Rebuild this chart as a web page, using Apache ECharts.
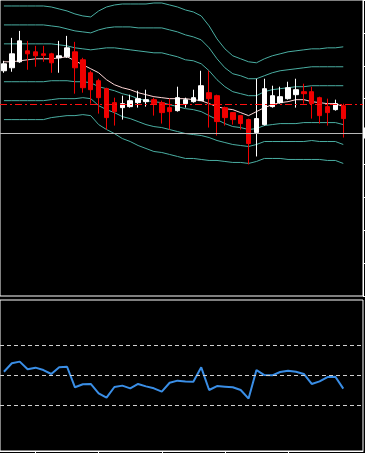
<!DOCTYPE html>
<html>
<head>
<meta charset="utf-8">
<script src="https://cdn.jsdelivr.net/npm/echarts@6/dist/echarts.min.js"></script>
<style>
html,body{margin:0;padding:0;background:#000;}
#chart{width:365px;height:453px;}
</style>
</head>
<body>
<div id="chart"></div>
<script>
// 46 bar slots (last two are empty shift space)
const categories = ['1','2','3','4','5','6','7','8','9','10','11','12','13','14','15','16','17','18','19','20','21','22','23','24','25','26','27','28','29','30','31','32','33','34','35','36','37','38','39','40','41','42','43','44','45','46'];

const opens  = [226,229,235,246,245,243,243,239,240,245,237,224,216,208,194,189,190,194,195,197,194,189,186,193,195,196,204,201,189,184,181,177,164,172,190,194,198,202,205,205,199,190,187,191];
const closes = [233,243,256,243,241,241.5,234,241,249,229,209,207,199,179,185,193,196,198,197,193,184,185,199,197,199,211,198,175,179,177,173,153,178,208,201,200,209,207,203,193,181,184,193,178];
const lows   = [224,225,234,227,230,235,224,224,239,203,204,193,183,167,171,177,189,189,190,181,173,167,185,189,194,196,169,161,171,172,167,132,140,171,189,193,197,189,193,178,173,171,186,159];
const highs  = [236,259,266,256,251,251,244,256,261,255,239,226,218,209,199,201,202,206,207,199,196,198,210,199,207,226,226,202,190,184,181,178,218,218,211,210,215,218,213,210,200,198,197,193];

const maLine = [235,235,236,237,238,238,238,239,240,236,232,228,224,217,212,209,207,204,202,200,199,198,198,198,197,196,193,190,188,187,184,181,185,189,192,194,195,197,197,195,194,193,193,190];

const bandUp3 = [291,291,291,291,291,291,290,288,286,283,281,280,286,290,292,293,293,293,293,294,294,292,290,287,285,281,271,258,248,241,238,235,234,238,241,243,245,246,247,248,248,249,249,250];
const bandUp2 = [272,272,272,272,272,272,271,270,268,266,265,264,267,269,270,270,270,269,269,269,269,267,265,262,260,257,249,238,229,223,221,218,218,221,224,226,227,228,229,230,230,230,230,230];
const bandUp1 = [253,253,253,253,253,253,253,252,251,249,248,247,248,249,249,248,247,246,245,244,244,242,240,237,236,233,226,217,210,205,203,201,201,205,207,208,209,210,210,211,211,211,211,211];
const bandDn1 = [215,215,215,215,215,215,216,216,216,215,215,214,210,208,206,203,201,198,196,195,194,192,190,188,187,185,181,177,173,170,169,167,168,171,172,173,173,173,174,174,174,174,174,172];
const bandDn2 = [196,196,196,196,196,196,197,198,198,198,199,198,191,187,184,180,178,175,172,170,169,167,165,163,162,161,159,156,154,152,151,150,152,155,155,155,155,155,155,156,155,155,155,152];
const bandDn3 = [177,177,177,177,177,177,179,180,181,181,182,181,172,167,163,158,155,151,148,145,144,142,140,138,138,137,136,136,135,134,134,133,135,138,138,138,137,137,137,137,137,136,136,133];

const rsiValues = [52.5,58.1,59.2,54.1,55.2,53.6,51.0,55.4,55.8,42.2,44.2,44.4,38.2,35.3,42.4,43.3,41.5,44.4,42.8,41.5,39.3,45.2,46.6,46.1,45.9,55.4,40.4,43.0,42.6,42.2,40.4,34.7,53.6,50.3,50.1,52.3,53.2,52.5,51.0,44.4,46.1,49.0,49.2,41.3];
const rsiLevels = [70,50,30];

const bidLevel = 163.5;
const redLevel = 192.5;

const candleData = opens.map((o,i)=>[o, closes[i], lows[i], highs[i]]);

const teal = '#4aaea2';
function band(data){
  return {type:'line', xAxisIndex:0, yAxisIndex:0, data:data, symbol:'none', silent:true, z:2,
    lineStyle:{color:teal, width:1}};
}

const chart = echarts.init(document.getElementById('chart'), null, {renderer:'canvas'});
chart.setOption({
  backgroundColor:'#000000',
  animation:false,
  grid:[
    {left:-5, right:2, top:-1, height:297, show:true, borderColor:'#ffffff', borderWidth:1, backgroundColor:'transparent'},
    {left:-5, right:2, top:300, height:151, show:true, borderColor:'#ffffff', borderWidth:1, backgroundColor:'transparent'}
  ],
  xAxis:[
    {type:'category', gridIndex:0, data:categories, boundaryGap:true,
     axisLine:{show:false}, axisTick:{show:false}, axisLabel:{show:false}, splitLine:{show:false}},
    {type:'category', gridIndex:1, data:categories, boundaryGap:true,
     axisLine:{show:true, lineStyle:{color:'#ffffff'}},
     axisTick:{show:true, alignWithLabel:true, length:2, inside:false,
       interval:function(i){ return i % 8 === 4 && i < 40; }, lineStyle:{color:'#ffffff'}},
     axisLabel:{show:false}, splitLine:{show:false}}
  ],
  yAxis:[
    {type:'value', gridIndex:0, position:'right', min:0, max:297, interval:33, scale:false,
     axisLine:{show:true, lineStyle:{color:'#ffffff'}},
     axisTick:{show:true, length:3, inside:false, lineStyle:{color:'#ffffff'}},
     axisLabel:{show:false}, splitLine:{show:false}},
    {type:'value', gridIndex:1, position:'right', min:0, max:100,
     axisLine:{show:false}, axisTick:{show:false}, axisLabel:{show:false}, splitLine:{show:false}}
  ],
  series:[
    band(bandUp3), band(bandUp2), band(bandUp1), band(bandDn1), band(bandDn2), band(bandDn3),
    {type:'line', xAxisIndex:0, yAxisIndex:0, data:maLine, symbol:'none', silent:true, z:2,
     lineStyle:{color:'#ffd6d6', width:1}},
    {type:'candlestick', xAxisIndex:0, yAxisIndex:0, data:candleData, barWidth:5, z:3,
     itemStyle:{color:'#ffffff', color0:'#f00000', borderColor:'#ffffff', borderColor0:'#f00000', borderWidth:1},
     markLine:{symbol:['none','none'], silent:true, animation:false,
       data:[
         {yAxis:bidLevel, lineStyle:{color:'#b9b9b9', width:1, type:'solid'},
          label:{show:true, position:'end', distance:0, formatter:'1.1640', backgroundColor:'#ffffff',
                 color:'#000000', fontSize:9, padding:[1,3], fontFamily:'DejaVu Sans'}},
         {yAxis:redLevel, lineStyle:{color:'#ff1010', width:1, type:[7,3,2,3], opacity:1}, label:{show:false}}
       ]}},
    {type:'line', xAxisIndex:1, yAxisIndex:1, data:rsiValues, symbol:'none', silent:true, z:3,
     lineStyle:{color:'#3a8ee6', width:2},
     markLine:{symbol:['none','none'], silent:true, animation:false,
       lineStyle:{color:'#d0d0d0', width:1, type:[4,3]}, label:{show:false},
       data:rsiLevels.map(v=>({yAxis:v}))}}
  ]
});
</script>
</body>
</html>
